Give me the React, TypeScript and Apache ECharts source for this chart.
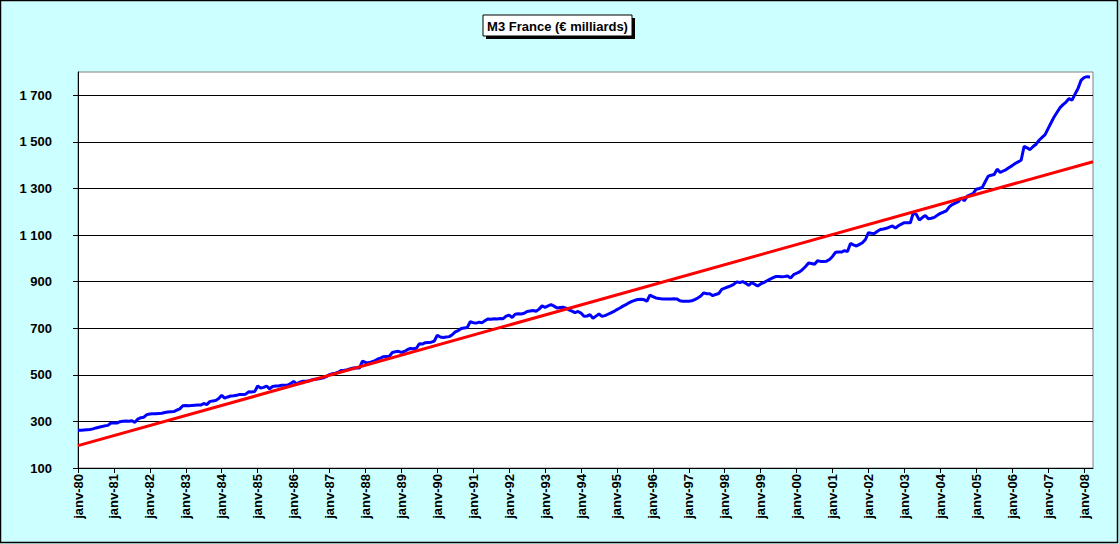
import React, { useEffect, useRef } from "react";
import * as echarts from "echarts";

const chartTitle = "M3 France (€ milliards)";

const xLabels = [
  "janv-80", "janv-81", "janv-82", "janv-83", "janv-84", "janv-85", "janv-86",
  "janv-87", "janv-88", "janv-89", "janv-90", "janv-91", "janv-92", "janv-93",
  "janv-94", "janv-95", "janv-96", "janv-97", "janv-98", "janv-99", "janv-00",
  "janv-01", "janv-02", "janv-03", "janv-04", "janv-05", "janv-06", "janv-07",
  "janv-08",
];

const yTicks = [100, 300, 500, 700, 900, 1100, 1300, 1500, 1700];

// Monthly M3 (€ bn), Jan 1980 -> Mar 2008
const m3 = [
  262, 262, 263, 264, 265, 268, 272, 275, 278, 281, 283, 293,
  293, 293, 299, 301, 302, 301, 303, 296, 310, 316, 318, 329,
  332, 333, 333, 334, 335, 338, 340, 341, 342, 348, 354, 367,
  368, 367, 368, 369, 370, 370, 377, 372, 385, 388, 390, 398,
  412, 400, 405, 409, 410, 412, 416, 416, 417, 427, 426, 428,
  452, 443, 446, 452, 440, 450, 452, 452, 455, 455, 456, 462,
  472, 461, 468, 472, 472, 473, 478, 481, 482, 484, 487, 493,
  501, 505, 507, 512, 519, 520, 522, 526, 529, 530, 529, 559,
  553, 552, 555, 560, 567, 572, 578, 579, 580, 596, 599, 601,
  596, 600, 608, 613, 612, 614, 633, 632, 638, 639, 640, 645,
  670, 662, 660, 662, 664, 672, 684, 690, 699, 701, 703, 728,
  724, 722, 726, 724, 733, 740, 739, 741, 740, 742, 741, 752,
  756, 746, 760, 762, 761, 764, 772, 774, 776, 773, 782, 796,
  790, 796, 801, 795, 787, 789, 790, 786, 779, 773, 767, 772,
  765, 751, 752, 758, 743, 752, 761, 751, 754, 760, 766, 772,
  780, 787, 795, 801, 809, 815, 820, 823, 824, 823, 816, 842,
  836, 830, 828, 826, 825, 826, 826, 827, 826, 818, 816, 816,
  816, 818, 823, 830, 838, 852, 848, 848, 840, 845, 849, 867,
  872, 877, 882, 888, 899, 896, 900, 893, 884, 896, 889, 881,
  890, 896, 903, 910, 916, 922, 922, 921, 922, 924, 916, 930,
  936, 942, 952, 965, 980, 978, 975, 990, 987, 986, 988, 995,
  1008, 1026, 1027, 1027, 1033, 1029, 1064, 1058, 1053, 1060, 1067, 1081,
  1110, 1108, 1107, 1116, 1124, 1126, 1129, 1134, 1139, 1130, 1140, 1147,
  1153, 1153, 1153, 1196, 1188, 1164, 1175, 1184, 1170, 1172, 1176, 1185,
  1193, 1198, 1204, 1221, 1231, 1237, 1243, 1260, 1247, 1267, 1273, 1279,
  1297, 1300, 1304, 1329, 1353, 1357, 1360, 1383, 1369, 1375, 1381, 1390,
  1398, 1407, 1414, 1421, 1481, 1474, 1467, 1480, 1490, 1507, 1519, 1531,
  1557, 1582, 1607, 1627, 1647, 1660, 1671, 1686, 1679, 1705, 1729, 1764,
  1776, 1780, 1779,
];

// Linear trend: month index and value at both ends of the axis
const trendMonths = [0, 339];
const trendValues = [196, 1415];

const FONT = "'Liberation Sans', Arial, sans-serif";

export default function App() {
  const ref = useRef<HTMLDivElement>(null);

  useEffect(() => {
    document.body.style.margin = "0";
    if (!ref.current) return;
    const chart = echarts.init(ref.current, null, { renderer: "svg" });
    const tickMonths = xLabels.map((_, i) => i * 12);
    const fmtThousands = (v: number) =>
      String(v).replace(/\B(?=(\d{3})+(?!\d))/g, " ");

    const titleX = 483;
    const titleY = 15;
    const titleW = 149;
    const titleH = 21;

    chart.setOption({
      animation: false,
      backgroundColor: "#CCFFFF",
      textStyle: { fontFamily: FONT },
      grid: {
        left: 78,
        top: 72,
        width: 1015,
        height: 396,
        show: true,
        backgroundColor: "#FFFFFF",
        borderColor: "#808080",
        borderWidth: 1,
        containLabel: false,
        outerBoundsMode: "none",
      },
      xAxis: {
        type: "value",
        min: 0,
        max: 339,
        interval: 12,
        axisLine: { show: true, lineStyle: { color: "#000", width: 1 } },
        axisTick: {
          show: true,
          inside: false,
          length: 5,
          customValues: tickMonths,
          lineStyle: { color: "#000" },
        },
        axisLabel: {
          customValues: tickMonths,
          rotate: 90,
          margin: 6,
          color: "#000",
          fontFamily: FONT,
          fontWeight: "bold",
          fontSize: 13,
          formatter: (v: number) =>
            v % 12 === 0 ? xLabels[v / 12] ?? "" : "",
        },
        splitLine: { show: false },
      },
      yAxis: {
        type: "value",
        min: 100,
        max: 1800,
        interval: 200,
        axisLine: { show: true, lineStyle: { color: "#000", width: 1 } },
        axisTick: {
          show: true,
          inside: false,
          length: 5,
          customValues: yTicks,
          lineStyle: { color: "#000" },
        },
        axisLabel: {
          customValues: yTicks,
          margin: 26,
          color: "#000",
          fontFamily: FONT,
          fontWeight: "bold",
          fontSize: 13,
          formatter: (v: number) => (yTicks.includes(v) ? fmtThousands(v) : ""),
        },
        splitLine: { show: true, lineStyle: { color: "#000", width: 1 } },
      },
      series: [
        {
          type: "line",
          name: "M3",
          data: m3.map((v, i) => [i, v]),
          showSymbol: false,
          symbol: "none",
          lineStyle: { color: "#0000FF", width: 3 },
          z: 3,
        },
        {
          type: "line",
          name: "Tendance",
          data: trendMonths.map((m, i) => [m, trendValues[i]]),
          showSymbol: false,
          symbol: "none",
          lineStyle: { color: "#FF0000", width: 3 },
          z: 4,
        },
      ],
      graphic: [
        {
          type: "rect",
          shape: { x: 0.5, y: 0.5, width: 1117, height: 542 },
          style: { fill: "none", stroke: "#000", lineWidth: 1.5 },
          silent: true,
          z: 100,
        },
        {
          type: "rect",
          shape: { x: titleX + 3, y: titleY + 3, width: titleW, height: titleH },
          style: { fill: "#000" },
          silent: true,
          z: 101,
        },
        {
          type: "rect",
          shape: { x: titleX, y: titleY, width: titleW, height: titleH },
          style: { fill: "#FFFFFF", stroke: "#000", lineWidth: 1 },
          silent: true,
          z: 102,
        },
        {
          type: "text",
          x: titleX + titleW / 2,
          y: titleY + titleH / 2 + 0.5,
          style: {
            text: chartTitle,
            fill: "#000",
            font: `bold 13px ${FONT}`,
            textAlign: "center",
            textVerticalAlign: "middle",
          },
          silent: true,
          z: 103,
        },
      ],
    });

    return () => {
      chart.dispose();
    };
  }, []);

  return <div ref={ref} style={{ width: 1119, height: 544 }} />;
}
